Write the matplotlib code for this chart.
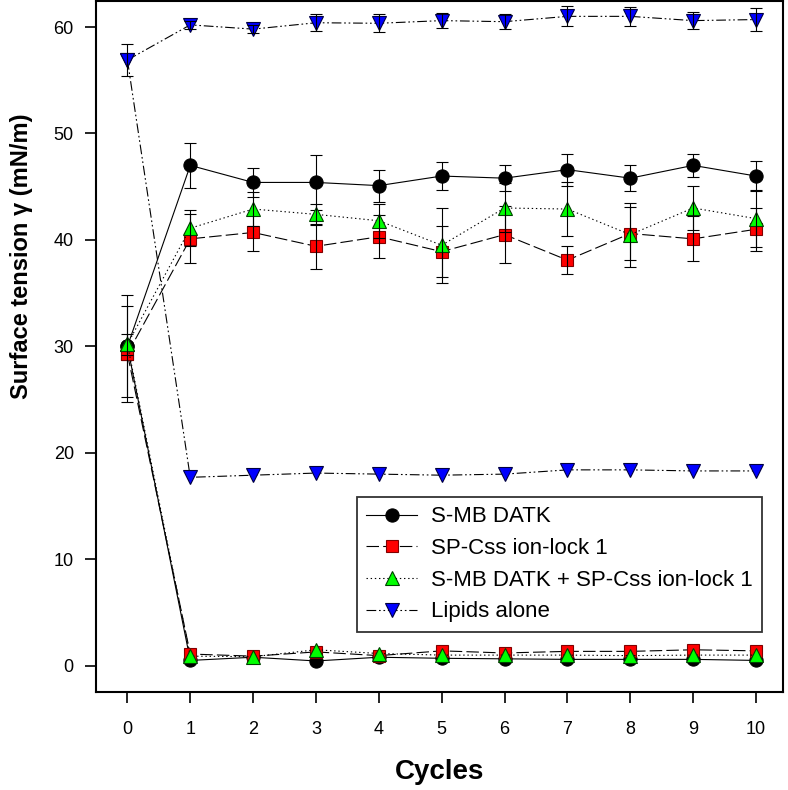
import matplotlib
matplotlib.use("Agg")
import matplotlib.pyplot as plt
from matplotlib import font_manager
from matplotlib.lines import Line2D

plt.rcParams['lines.scale_dashes'] = False

names = {f.name for f in font_manager.fontManager.ttflist}
narrow = 'Liberation Sans Narrow' if 'Liberation Sans Narrow' in names else 'Liberation Sans'

cycles = [0, 1, 2, 3, 4, 5, 6, 7, 8, 9, 10]

labels = ["S-MB DATK", "SP-Css ion-lock 1", "S-MB DATK + SP-Css ion-lock 1", "Lipids alone"]

smb_max = [30.0, 47.0, 45.4, 45.4, 45.1, 46.0, 45.8, 46.6, 45.8, 47.0, 46.0]
smb_err = [4.8, 2.1, 1.4, 2.6, 1.5, 1.3, 1.2, 1.5, 1.2, 1.1, 1.4]
smb_min = [30.0, 0.5, 0.8, 0.45, 0.8, 0.7, 0.65, 0.6, 0.6, 0.6, 0.5]

spc_max = [29.3, 40.1, 40.7, 39.4, 40.3, 38.9, 40.5, 38.1, 40.6, 40.1, 41.0]
spc_err = [4.5, 2.3, 1.7, 2.1, 2.0, 2.4, 2.7, 1.3, 2.5, 2.1, 2.0]
spc_min = [29.3, 1.1, 0.9, 1.3, 0.95, 1.4, 1.2, 1.35, 1.35, 1.5, 1.4]

mix_max = [30.2, 41.1, 42.9, 42.4, 41.8, 39.5, 43.0, 42.9, 40.5, 43.0, 42.0]
mix_err = [1.0, 1.7, 1.6, 1.0, 1.6, 3.5, 2.3, 2.5, 3.0, 2.1, 2.7]
mix_min = [30.2, 0.9, 0.85, 1.5, 1.15, 1.0, 1.0, 1.0, 0.95, 1.0, 1.0]

lip_max = [56.9, 60.2, 59.8, 60.4, 60.35, 60.6, 60.5, 61.0, 61.0, 60.6, 60.7]
lip_err = [1.5, 0.4, 0.4, 0.8, 0.85, 0.7, 0.7, 0.95, 0.9, 0.8, 1.1]
lip_min = [56.9, 17.7, 17.9, 18.1, 18.0, 17.9, 18.0, 18.4, 18.4, 18.3, 18.3]

styles = [
    dict(marker='o', mfc='black', mec='black', ms=9.5, dashes=None),
    dict(marker='s', mfc='#ff0000', mec='#800000', ms=8.5, dashes=(9, 3)),
    dict(marker='^', mfc='#00ff00', mec='#004000', ms=10, dashes=(1, 2)),
    dict(marker='v', mfc='#0000ff', mec='#000040', ms=10, dashes=(7, 2, 1.2, 2, 1.2, 2)),
]

series = [
    (smb_max, smb_err, smb_min),
    (spc_max, spc_err, spc_min),
    (mix_max, mix_err, mix_min),
    (lip_max, lip_err, lip_min),
]

fig = plt.figure(figsize=(7.88, 7.90), dpi=100)
ax = fig.add_axes([0.1218, 0.1244, 0.8719, 0.8743])

handles = []
for i, ((ymax, yerr, ymin), st) in enumerate(zip(series, styles)):
    z = 3 + i * 0.1
    for yv in (ymax, ymin):
        ln, = ax.plot(cycles, yv, color='black', lw=0.8, marker=st['marker'],
                      mfc=st['mfc'], mec=st['mec'], mew=0.8, ms=st['ms'], zorder=z)
        if st['dashes'] is not None:
            ln.set_dashes(st['dashes'])
    ax.errorbar(cycles, ymax, yerr=yerr, fmt='none', ecolor='black', elinewidth=0.8,
                capsize=4.3, capthick=0.8, zorder=z + 0.05)
    h = Line2D([], [], color='black', lw=0.8, marker=st['marker'], mfc=st['mfc'],
               mec=st['mec'], mew=0.8, ms=st['ms'])
    if st['dashes'] is not None:
        h.set_dashes(st['dashes'])
    handles.append(h)

ax.set_xlim(-0.5, 10.43)
ax.set_ylim(-2.44, 62.44)
ax.set_xticks(cycles)
ax.set_yticks([0, 10, 20, 30, 40, 50, 60])

for s in ax.spines.values():
    s.set_linewidth(1.5)
ax.tick_params(direction='out', length=8, width=1.2)
ax.tick_params(axis='x', pad=13)
ax.tick_params(axis='y', pad=8)
for t in ax.get_yticklabels():
    t.set_fontfamily('Liberation Sans')
    t.set_fontsize(13)
for t in ax.get_xticklabels():
    t.set_fontfamily(narrow)
    t.set_fontsize(13)

ax.set_xlabel('Cycles', fontsize=20, fontweight='bold', family='Liberation Sans', labelpad=15)
ax.set_ylabel('Surface tension \u03b3 (mN/m)', fontsize=17, fontweight='bold',
              family=['Liberation Sans', 'DejaVu Sans'])
ax.yaxis.set_label_coords(-0.091, 0.631)

leg = ax.legend(handles, labels, loc='upper right', bbox_to_anchor=(0.969, 0.282),
                prop={'family': 'Liberation Sans', 'size': 16}, frameon=True, fancybox=False,
                edgecolor='black', handlelength=2.3, handletextpad=0.6, labelspacing=0.48,
                borderpad=0.42, borderaxespad=0)
leg.get_frame().set_linewidth(1.3)

fig.savefig('out.png', dpi=100)
